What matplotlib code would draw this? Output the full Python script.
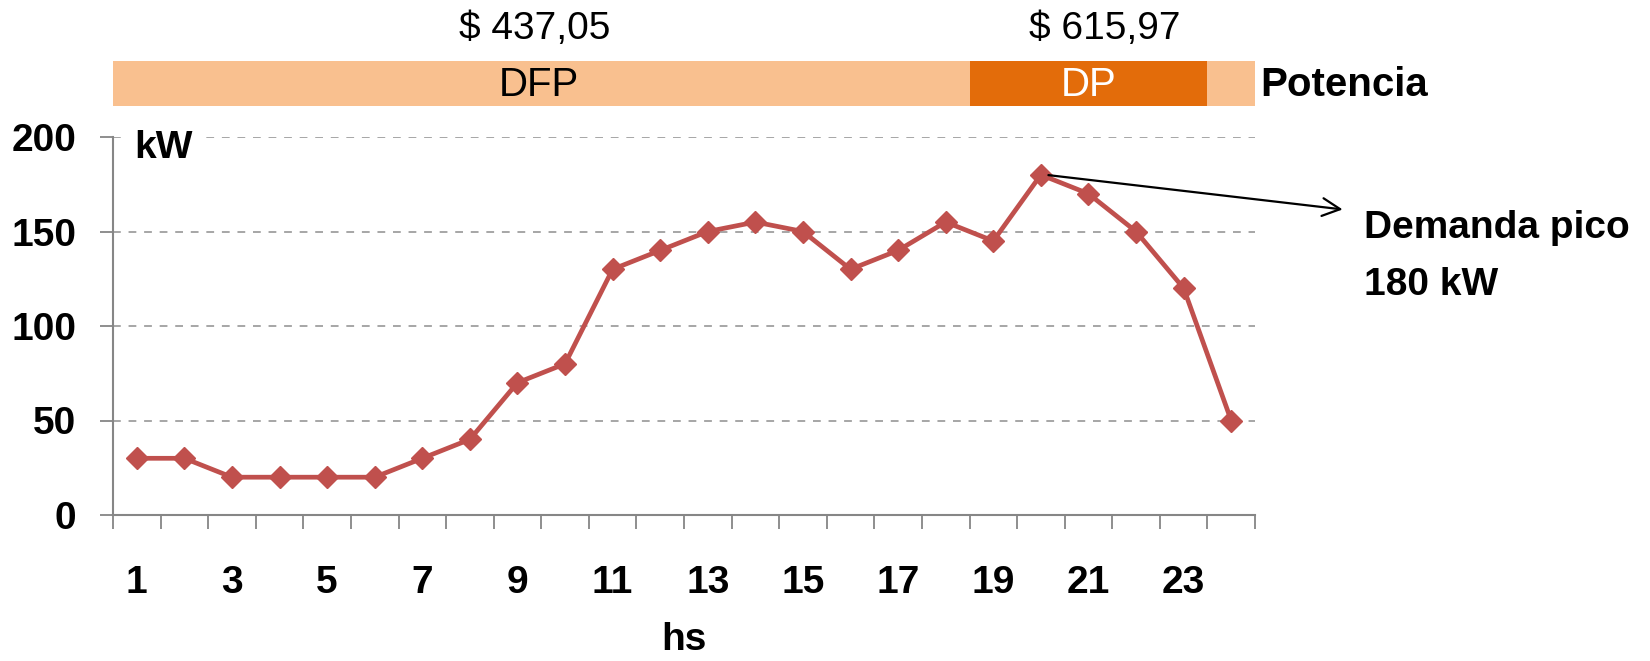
import matplotlib.pyplot as plt
import matplotlib.patches as mpatches

plt.rcParams['font.family'] = ['Liberation Sans', 'DejaVu Sans']

hours = list(range(1, 25))
demand = [30, 30, 20, 20, 20, 20, 30, 40, 70, 80, 130, 140,
          150, 155, 150, 130, 140, 155, 145, 180, 170, 150, 120, 50]
tickLabels = [str(h) for h in hours if h % 2 == 1]

# tariff periods (first hour, last hour, label, price)
periods = [(1, 24, "DFP", "$ 437,05"), (19, 23, "DP", "$ 615,97")]

lineColor = "#C0504D"
lightOrange = "#F9C08F"
darkOrange = "#E36C0A"
axisGray = "#868686"

W, H = 1650, 661
fig = plt.figure(figsize=(W / 100, H / 100), dpi=100)

axL, axR, axB, axT = 113, 1255, 515, 137
ax = fig.add_axes([axL / W, 1 - axB / H, (axR - axL) / W, (axB - axT) / H])
ax.plot(hours, demand, color=lineColor, lw=3.4, marker="D", ms=11, zorder=3)
ax.set_xlim(0.5, 24.5)
ax.set_ylim(0, 200)
ax.set_yticks([0, 50, 100, 150, 200])
ax.yaxis.grid(True, linestyle=(0, (4, 4)), color="#A6A6A6", lw=1.4)
ax.set_axisbelow(True)
for s in ["top", "right"]:
    ax.spines[s].set_visible(False)
for s in ["left", "bottom"]:
    ax.spines[s].set_color(axisGray)
    ax.spines[s].set_linewidth(1.5)

ax.set_xticks([h + 0.5 for h in range(0, 25)])
ax.set_xticklabels([])
ax.set_xticks([h for h in hours if h % 2 == 1], minor=True)
ax.set_xticklabels(tickLabels, minor=True)
ax.tick_params(axis="x", which="major", direction="out", length=10, width=1.3, color=axisGray)
ax.tick_params(axis="x", which="minor", length=0, pad=36, labelsize=28)
ax.tick_params(axis="y", direction="out", length=9.5, width=1.3, color=axisGray, pad=17, labelsize=28)
for lbl in ax.get_xticklabels(minor=True) + ax.get_yticklabels():
    lbl.set_fontweight("bold")

ax.set_xlabel("hs", fontsize=28, fontweight="bold", labelpad=15)
ax.text(0.019, 0.97, "kW", transform=ax.transAxes, fontsize=28, fontweight="bold",
        va="center", ha="left", bbox=dict(facecolor="white", edgecolor="none", pad=6))

# peak annotation
peakIdx = demand.index(max(demand))
ax.annotate("", xy=(26.4, 161.5), xytext=(hours[peakIdx] + 0.1, demand[peakIdx]),
            arrowprops=dict(arrowstyle="->", color="black", lw=1.6, mutation_scale=32),
            annotation_clip=False)
ax.text(26.8, 161.5, "Demanda pico\n180 kW", fontsize=28, fontweight="bold",
        va="top", ha="left", linespacing=1.75)

# tariff band
bandL, bandR, bandT, bandB = 110, 1255, 61, 106
bx = fig.add_axes([bandL / W, 1 - bandB / H, (bandR - bandL) / W, (bandB - bandT) / H])
bx.set_xlim(0.5 - (axL - bandL) / ((axR - axL) / 24), 24.5)
bx.set_ylim(0, 1)
bx.axis("off")
for (h0, h1, name, price), col in zip(periods, [lightOrange, darkOrange]):
    bx.add_patch(mpatches.Rectangle((h0 - 0.5, 0), h1 - h0 + 1, 1, facecolor=col, edgecolor="none"))
nameX = [9.45, 21.0]
priceX = [9.37, 21.35]
for (h0, h1, name, price), nx, px, tcol in zip(periods, nameX, priceX, ["black", "white"]):
    bx.text(nx, 0.47, name, color=tcol, fontsize=29, ha="center", va="center")
    bx.text(px, 1.72, price, color="black", fontsize=28, ha="center", va="center")
bx.text(1.005, 0.47, "Potencia", transform=bx.transAxes, fontsize=29, fontweight="bold",
        ha="left", va="center")

fig.savefig("out.png", dpi=100)
